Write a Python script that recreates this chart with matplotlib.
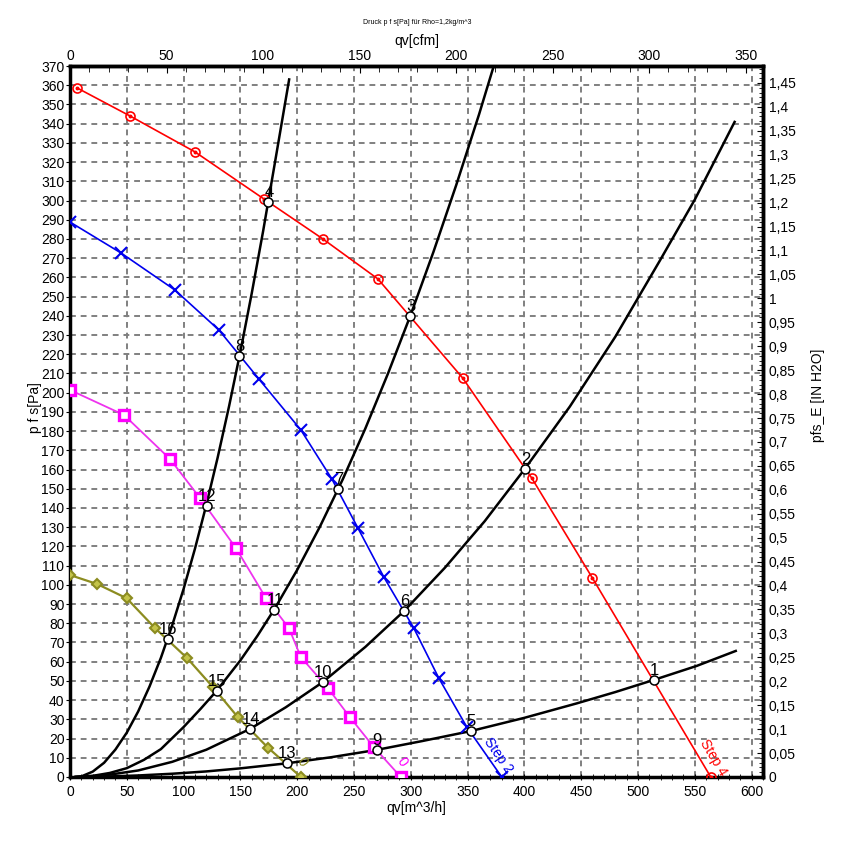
import matplotlib
matplotlib.use('Agg')
import matplotlib.pyplot as plt
from matplotlib.ticker import MultipleLocator, FixedLocator, FuncFormatter

plt.rcParams['font.family'] = ['Liberation Sans', 'DejaVu Sans']

# fan curves, qv [m^3/h] vs pfs [Pa]
step4_q = [6.2, 52.8, 110, 170.7, 222.6, 271, 345.7, 406.4, 459.8, 564]
step4_p = [358.6, 344, 325.3, 300.8, 280, 259.2, 207.6, 155.6, 103.6, 0]

step2_q = [0, 44.9, 92.4, 131.1, 166.3, 203.2, 230.5, 253.4, 276.2, 302.6, 324.6, 349.3, 380]
step2_p = [288.8, 272.7, 253.4, 232.6, 207.1, 180.6, 155.1, 129.6, 104.1, 77.5, 51.5, 26, 0]

step1_q = [0, 47.5, 88, 114.4, 146, 172.4, 192.7, 203.2, 227, 246.3, 267.4, 291.2]
step1_p = [201.4, 188.4, 165.5, 145.2, 119.2, 93.2, 77.5, 62.4, 46.3, 31.2, 15.6, 0]

step0_q = [0, 24, 49.9, 75, 103.2, 125.5, 147.8, 174.2, 203.2]
step0_p = [105.1, 100.4, 93, 77.4, 61.8, 47, 31.1, 15.3, 0]

# system curves
sysA_q = [5, 10, 20, 30, 40, 50, 60, 70, 80, 90, 100, 110, 120, 130, 140, 150, 160, 170, 180, 192.9]
sysA_p = [0, 0.3, 2.8, 7.4, 14.3, 23.1, 34.1, 47.1, 62, 79, 97.9, 118.8, 141.6, 166.3, 192.9,
          221.4, 251.8, 284.1, 318.4, 363]

sysB_q = [5, 20, 35, 50, 65, 80, 100, 115, 129, 150, 165, 180, 200, 220, 240, 260, 280, 300,
          320, 340, 360, 373]
sysB_p = [0, 0.6, 2.1, 4.6, 8.9, 14.5, 26, 35.5, 44.8, 60.7, 73.5, 87.4, 107.8, 130.3, 154.8,
          181.4, 210.1, 240.7, 273.4, 308.1, 344.7, 370]

sysC_q = [5, 30, 60, 90, 120, 158.4, 190, 222.3, 260, 294.1, 330, 365, 400.3, 440, 480, 519,
          550, 585]
sysC_p = [0, 0.8, 3.4, 7.9, 14.2, 25, 36.3, 49.3, 67.7, 86.4, 108.9, 133.1, 160.3, 192.8, 229.1,
          268.5, 300.5, 340.9]

sysD_q = [5, 30, 60, 90, 120, 150, 190.6, 230, 269.8, 310, 352.8, 400, 446, 480, 513.8, 551.6, 586]
sysD_p = [0, 0.2, 0.8, 1.7, 2.9, 4.5, 7.1, 10.3, 14.1, 18.7, 23.9, 30.8, 38.3, 44.2, 50.5, 57.8, 65.6]

# operating points 1..16
op_no = list(range(1, 17))
op_q = [513.8, 400.3, 299.1, 174.5, 352.8, 294.1, 236, 149, 269.8, 222.3, 179.8, 120.2, 190.6, 158.4, 129, 85.9]
op_p = [50.5, 160.3, 240, 299.1, 23.9, 86.4, 149.7, 219.2, 14.1, 49.3, 86.9, 141, 7.1, 25, 44.8, 71.8]

cfm_ticks = [0, 50, 100, 150, 200, 250, 300, 350]

CFM = 1.699
INH2O = 249.09

fig = plt.figure(figsize=(8.44, 8.44), dpi=100)
ax = fig.add_axes([70 / 844, 1 - 777 / 844, 693 / 844, 711 / 844])
ax.set_xlim(0, 610)
ax.set_ylim(0, 370)

ax.xaxis.set_major_locator(MultipleLocator(50))
ax.xaxis.set_minor_locator(MultipleLocator(10))
ax.yaxis.set_major_locator(MultipleLocator(10))
ax.grid(True, which='major', color='#808080', lw=1.4, ls=(0, (3, 2.5)))
ax.set_axisbelow(True)

for s in ax.spines.values():
    s.set_linewidth(2.5)
ax.tick_params(axis='x', which='both', direction='inout', labelsize=10)
ax.tick_params(axis='x', which='major', length=5)
ax.tick_params(axis='x', which='minor', length=4)
ax.tick_params(axis='y', direction='out', length=3, labelsize=10, pad=1)

# system curves
for q, p in [(sysA_q, sysA_p), (sysB_q, sysB_p), (sysC_q, sysC_p), (sysD_q, sysD_p)]:
    ax.plot(q, p, color='black', lw=1.8, zorder=3)

# fan curves
red = '#ff0000'
ax.plot(step4_q, step4_p, color=red, lw=1.2, marker='o', ms=6.5, mfc='none', mec=red, mew=1.2, zorder=4)
ax.plot(step4_q, step4_p, ls='none', marker='o', ms=1.8, color=red, zorder=4)

blue = '#0000ee'
ax.plot(step2_q, step2_p, color=blue, lw=1.2, marker='x', ms=8, mew=1.5, zorder=4)

mag = '#ff00ff'
ax.plot(step1_q, step1_p, color='#ee33ee', lw=1.3, zorder=4)
ax.plot(step1_q, step1_p, ls='none', marker='s', ms=7, mfc='white', mec=mag, mew=2.4, zorder=4)

olive = '#8c8c20'
ax.plot(step0_q, step0_p, color=olive, lw=1.6, zorder=4)
ax.plot(step0_q, step0_p, ls='none', marker='D', ms=5, mfc='#c4c44a', mec=olive, mew=1.5, zorder=4)

# operating points
ax.plot(op_q, op_p, ls='none', marker='o', ms=6.5, mfc='white', mec='black', mew=1.1, zorder=5)
for n, q, p in zip(op_no, op_q, op_p):
    ax.annotate(str(n), (q, p), xytext=(0.5, 3.5), textcoords='offset points',
                ha='center', va='baseline', fontsize=12, zorder=6)

# curve names
ax.text(377, 11, 'Step 2', color=blue, fontsize=10, rotation=-55,
        ha='center', va='center', rotation_mode='anchor')
ax.text(566, 10, 'Step 4', color=red, fontsize=10, rotation=-59,
        ha='center', va='center', rotation_mode='anchor')
ax.text(292, 8, '0', color=mag, fontsize=10, rotation=-55,
        ha='center', va='center', rotation_mode='anchor')
ax.text(204, 8, '0', color=olive, fontsize=10, rotation=-55,
        ha='center', va='center', rotation_mode='anchor')

ax.set_xlabel('qv[m^3/h]', fontsize=10, labelpad=1)
ax.set_ylabel('p f s[Pa]', fontsize=10)
ax.yaxis.set_label_coords(-0.041, 0.52)

# top axis in cfm
top = ax.secondary_xaxis('top', functions=(lambda q: q / CFM, lambda c: c * CFM))
top.xaxis.set_major_locator(FixedLocator(cfm_ticks))
top.xaxis.set_minor_locator(FixedLocator(list(range(0, 351, 10))))
top.tick_params(which='both', direction='in', labelsize=10, pad=2)
top.tick_params(which='major', length=5)
top.tick_params(which='minor', length=4)
top.spines['top'].set_linewidth(2.5)
top.set_xlabel('qv[cfm]', fontsize=10, labelpad=3)

# right axis in inch water
right = ax.secondary_yaxis('right', functions=(lambda p: p / INH2O, lambda w: w * INH2O))
right.yaxis.set_major_locator(FixedLocator([i * 0.05 for i in range(30)]))
right.yaxis.set_minor_locator(FixedLocator([i * 0.01 for i in range(149)]))
right.yaxis.set_major_formatter(
    FuncFormatter(lambda v, pos: f'{v:.2f}'.rstrip('0').rstrip('.').replace('.', ',')))
right.tick_params(which='both', direction='in', labelsize=10, pad=4)
right.tick_params(which='major', length=4)
right.tick_params(which='minor', length=3)
right.spines['right'].set_linewidth(2.5)

fig.text(818 / 844, 1 - 395 / 844, 'pfs_E [IN H2O]', fontsize=10, rotation=90,
         ha='center', va='center', family=['Liberation Sans Narrow', 'Liberation Sans'])
fig.text(0.494, 1 - 23 / 844, 'Druck p f s[Pa] für Rho=1,2kg/m^3', fontsize=5, ha='center', va='center')

fig.savefig('out.png', dpi=100)
